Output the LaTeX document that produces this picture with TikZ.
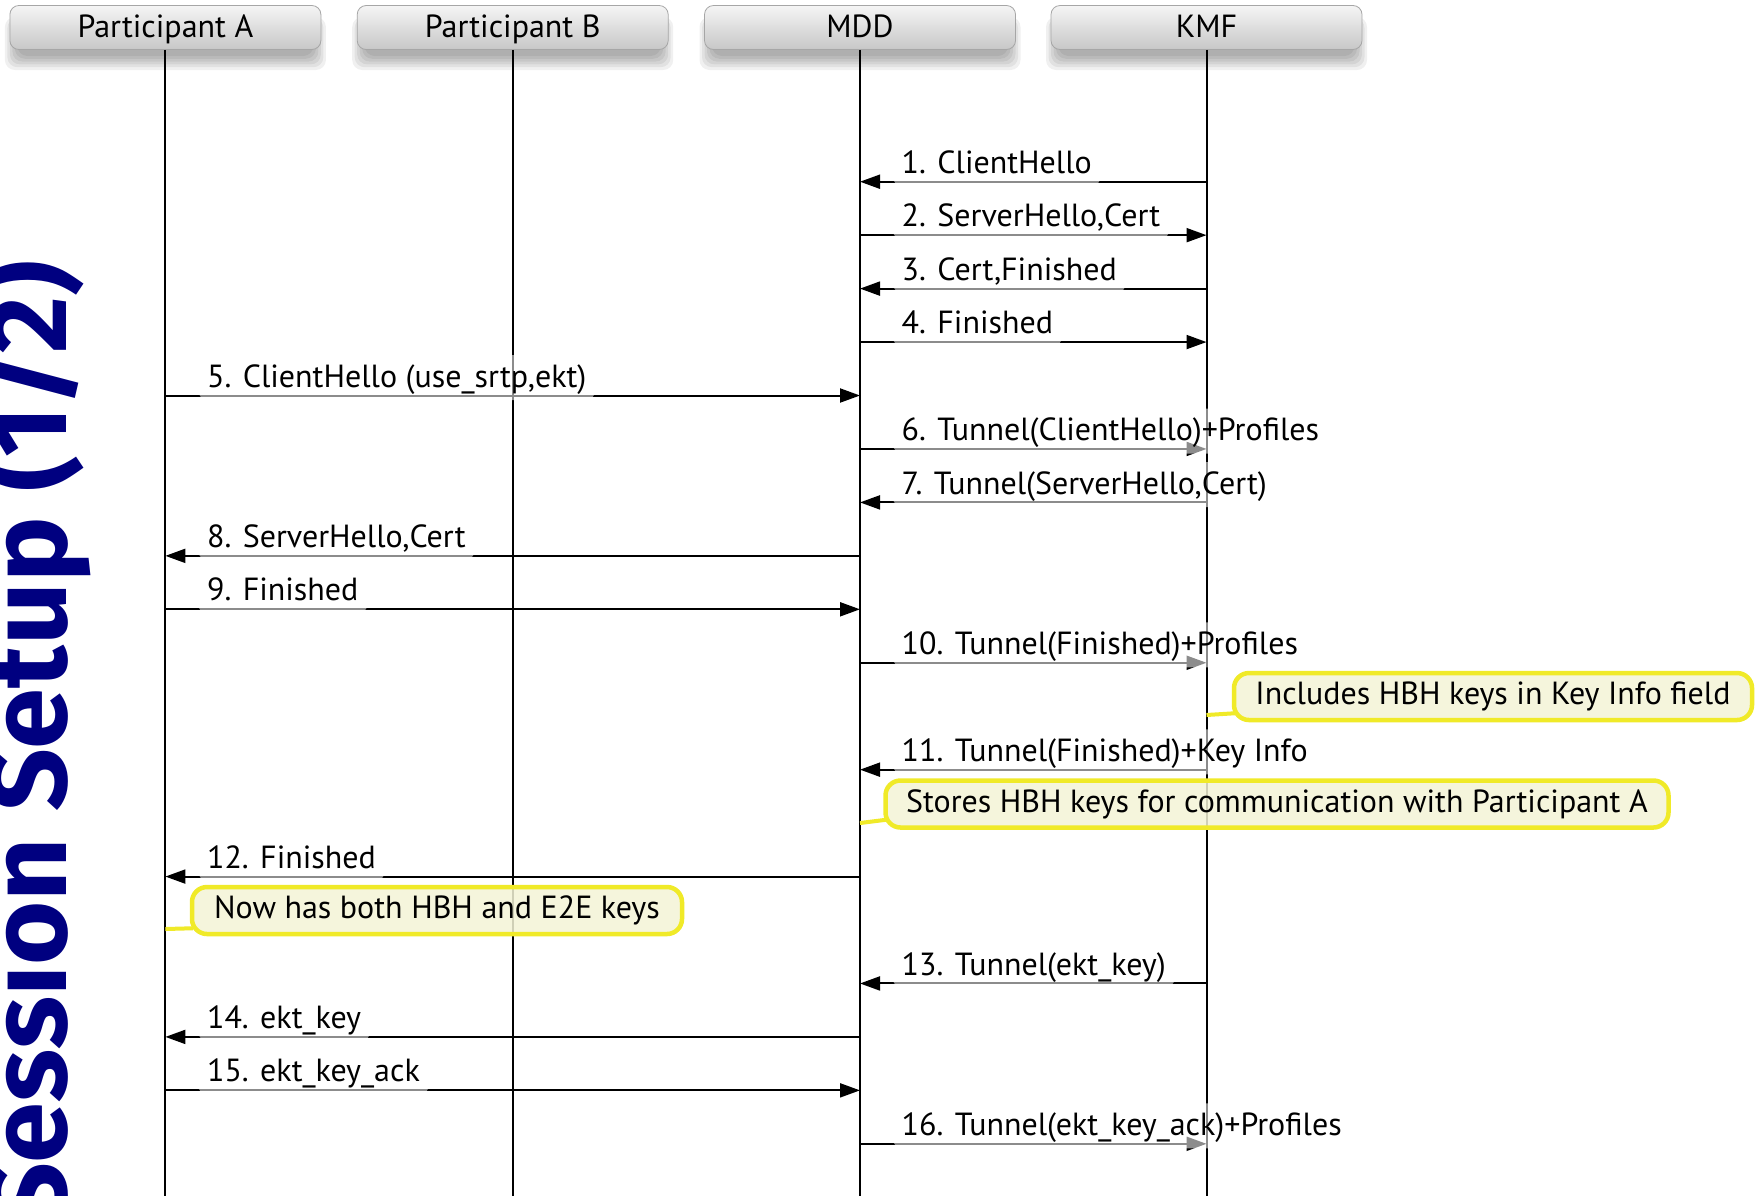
\documentclass[tikz,border=0pt]{standalone}
\usepackage{fontspec}
\setmainfont{PT Sans}
\newfontfamily\titlefont{Fira Sans}
\usetikzlibrary{arrows.meta}
\definecolor{navyt}{RGB}{0,0,128}
\definecolor{noteborder}{RGB}{240,234,40}
\definecolor{notefill}{RGB}{244,244,214}
\tikzset{
  lifeline/.style={line width=2pt, black},
  msg/.style={line width=2pt, -{Triangle[length=20pt,width=14pt]}},
  msglabel/.style={anchor=base west, fill=white, fill opacity=0.55, text opacity=1,
    rounded corners=10pt, inner xsep=9pt, inner ysep=10pt, text height=22pt, text depth=3pt,
    font=\fontsize{32}{38}\selectfont},
  header/.style={rounded corners=9pt, minimum width=311pt, minimum height=44pt,
    draw=black!35, line width=0.8pt, top color=white!96!black, bottom color=black!22,
    inner sep=0pt, text height=22pt, text depth=3pt, font=\fontsize{32}{38}\selectfont},
  note/.style={rounded corners=15pt, draw=noteborder, line width=4.5pt, fill=notefill,
    fill opacity=0.85, text opacity=1, draw opacity=1, inner sep=0pt, minimum height=47pt,
    font=\fontsize{32}{38}\selectfont},
  noteline/.style={noteborder, line width=4pt},
  title/.style={rotate=90, anchor=base east, inner sep=0pt, text=navyt,
    font=\titlefont\bfseries\fontsize{110}{116}\selectfont},
}
\begin{document}
\begin{tikzpicture}[x=1pt,y=-1pt]
\useasboundingbox (0,0) rectangle (1763,1195);
\clip (0,0) rectangle (1763,1195);
\fill[white] (0,0) rectangle (1763,1195);

% title
\node[title] (title) at (66,261) {Session Setup (1/2)};

% header shadows
\foreach \hx in {165.4,512.7,860,1206.5}{
  \foreach \i in {0,...,5}{
    \fill[black, opacity=0.06, rounded corners=10pt]
      (\hx-148-\i*2.5, 22-\i) rectangle (\hx+148+\i*2.5, 56+\i*2.8);
  }
}

% header nodes
\node[header] (hA) at (165.4,27.5) {Participant A};
\node[header] (hB) at (512.7,27.5) {Participant B};
\node[header] (hM) at (860,27.5) {MDD};
\node[header] (hK) at (1206.5,27.5) {KMF};

% lifelines
\foreach \p in {A,B,M,K}{
  \coordinate (e\p) at (h\p.south |- 0,1200);
  \draw[lifeline] (h\p.south) -- (e\p);
}

% messages
\foreach \n/\f/\t/\l/\s/\lab in {
  1/K/M/M/1/{1. ClientHello},
  2/M/K/M/2/{2. ServerHello,Cert},
  3/K/M/M/3/{3. Cert,Finished},
  4/M/K/M/4/{4. Finished},
  5/A/M/A/5/{5. ClientHello (use\_srtp,ekt)},
  6/M/K/M/6/{6. Tunnel(ClientHello)+Profiles},
  7/K/M/M/7/{7. Tunnel(ServerHello,Cert)},
  8/M/A/A/8/{8. ServerHello,Cert},
  9/A/M/A/9/{9. Finished},
  10/M/K/M/10/{10. Tunnel(Finished)+Profiles},
  11/K/M/M/12/{11. Tunnel(Finished)+Key Info},
  12/M/A/A/14/{12. Finished},
  13/K/M/M/16/{13. Tunnel(ekt\_key)},
  14/M/A/A/17/{14. ekt\_key},
  15/A/M/A/18/{15. ekt\_key\_ack},
  16/M/K/M/19/{16. Tunnel(ekt\_key\_ack)+Profiles}}{
  \pgfmathsetmacro\yy{181.7+(\s-1)*53.45}
  \coordinate (m\n s) at (h\f.south |- 0,\yy);
  \coordinate (m\n e) at (h\t.south |- 0,\yy);
  \coordinate (m\n l) at (h\l.south |- 0,\yy);
  \draw[msg] (m\n s) -- (m\n e);
  \node[msglabel] (lab\n) at ([shift={(32.5pt,8.4pt)}]m\n l) {\lab};
}

% notes
\coordinate (c1) at (hK.south |- 0,715);
\coordinate (c2) at (hM.south |- 0,823);
\coordinate (c3) at (hA.south |- 0,929);
\node[note, minimum width=518pt] (n1) at (1493,696.5) {Includes HBH keys in Key Info field};
\node[note, minimum width=783pt] (n2) at (1277,804) {Stores HBH keys for communication with Participant A};
\node[note, minimum width=490pt] (n3) at (437,910.5) {Now has both HBH and E2E keys};
\draw[noteline] (c1) -- ([xshift=3pt,yshift=9pt]n1.south west);
\draw[noteline] (c2) -- ([xshift=3pt,yshift=10pt]n2.south west);
\draw[noteline] (c3) -- ([xshift=3pt,yshift=8pt]n3.south west);
\end{tikzpicture}
\end{document}
